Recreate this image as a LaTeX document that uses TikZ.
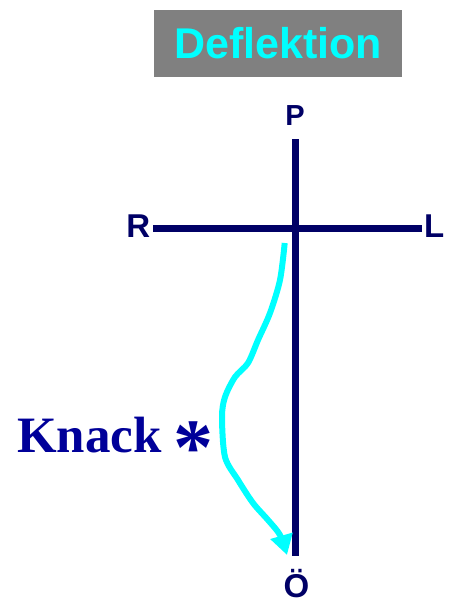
\documentclass[tikz,border=0pt]{standalone}
\usepackage{fontspec}
\usetikzlibrary{arrows.meta}
\newfontfamily\arialb{Liberation Sans Bold}
\newfontfamily\timesb{Liberation Serif Bold}
\definecolor{cnavy}{HTML}{000066}
\definecolor{cknack}{HTML}{000099}
\definecolor{ccyan}{HTML}{00FFFF}
\definecolor{cgray}{HTML}{808080}
\tikzset{
  axislab/.style={cnavy, anchor=base, inner sep=0pt, font=\arialb\fontsize{33}{33}\selectfont},
  axisline/.style={cnavy, line width=6.5pt},
}
\begin{document}
\begin{tikzpicture}[x=1pt, y=-1pt]
\useasboundingbox[fill=white] (0,0) rectangle (450,603);
%% title
\node[fill=cgray, text=ccyan, minimum width=248pt, minimum height=67pt, inner sep=0pt,
  font=\arialb\fontsize{43}{43}\selectfont] (titel) at (278,43.5) {Deflektion};
%% the cross
\coordinate (oben) at (295.7,139);
\coordinate (unten) at (295.7,556);
\coordinate (links) at (153,228.5);
\coordinate (rechts) at (421.7,228.5);
\draw[axisline] (oben) -- (unten);
\draw[axisline] (links) -- (rechts);
\node[axislab, font=\arialb\fontsize{29}{29}\selectfont] (P) at (295,125) {P};
\node[axislab, anchor=base east] (R) at (150.5,237) {R};
\node[axislab, anchor=base west] (L) at (424,237) {L};
\node[axislab] (OE) at (296.5,597) {Ö};
%% the bend
\draw[ccyan, line width=6pt, line join=round, -{Triangle[length=20pt, width=22pt]}]
  plot[smooth, tension=0.5] coordinates {(284.7,243) (280,280) (270,313) (258,340) (248,363)
    (235,377) (225,397) (222,417) (225,457) (238,480) (253,503) (268,520) (280,535) (287,555)};
%% label
\node[cknack, anchor=base west, inner sep=0pt, font=\timesb\fontsize{51}{51}\selectfont] (knack) at (17,452) {Knack};
\node[cknack, inner sep=0pt, font=\timesb\fontsize{80}{80}\selectfont] (stern) at (193,448) {*};
\end{tikzpicture}
\end{document}
